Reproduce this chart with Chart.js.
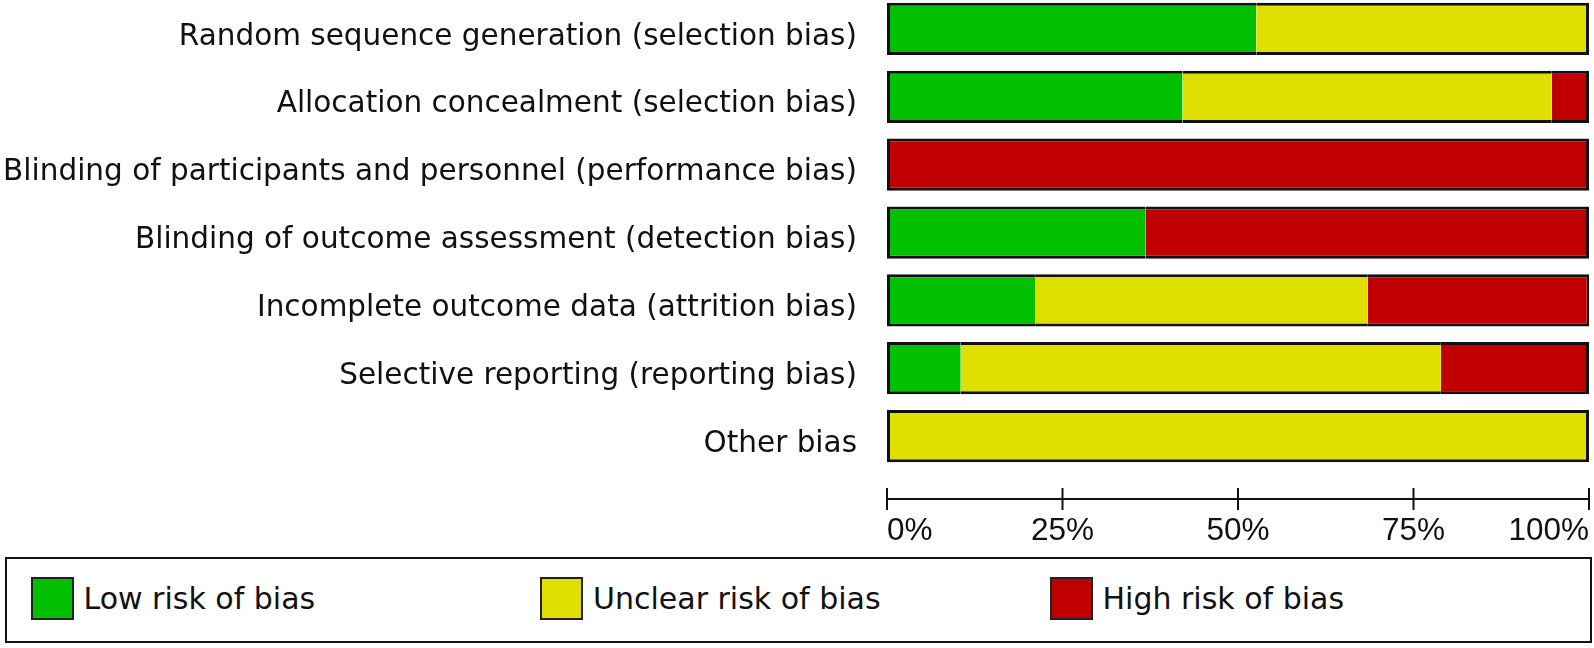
<!DOCTYPE html>
<html>
<head>
<meta charset="utf-8">
<script src="https://cdn.jsdelivr.net/npm/chart.js@4.4.1/dist/chart.umd.min.js"></script>
<style>
  html, body { margin: 0; padding: 0; background: #fff; }
  body { width: 1594px; height: 648px; position: relative; overflow: hidden;
         font-family: 'DejaVu Sans', sans-serif; }
  #chart { position: absolute; left: 0; top: -5px; }
  #legend { position: absolute; left: 5px; top: 557px; width: 1587px; height: 86px;
            box-sizing: border-box; border: 2px solid #111; }
  .item { position: absolute; top: 18px; display: flex; align-items: center;
          font-size: 30px; color: #111; white-space: nowrap; }
  .swatch { width: 43px; height: 43px; box-sizing: border-box; border: 2px solid #222;
            margin-right: 10px; }
</style>
</head>
<body>
<canvas id="chart" width="1594" height="555"></canvas>
<div id="legend"></div>
<script>
/* risk of bias summary – share of studies per judgement, % */

const categories = [
  'Random sequence generation (selection bias)',
  'Allocation concealment (selection bias)',
  'Blinding of participants and personnel (performance bias)',
  'Blinding of outcome assessment (detection bias)',
  'Incomplete outcome data (attrition bias)',
  'Selective reporting (reporting bias)',
  'Other bias',
];
const seriesNames = ['Low risk of bias', 'Unclear risk of bias', 'High risk of bias'];
const lowRisk     = [52.6, 42.1,   0, 36.8, 21.1, 10.5,   0];
const unclearRisk = [47.4, 52.6,   0,    0, 47.4, 68.4, 100];
const highRisk    = [   0,  5.3, 100, 63.2, 31.6, 21.1,   0];
const xTicks = [0, 25, 50, 75, 100];

const allSeries = [lowRisk, unclearRisk, highRisk];
const colors = ['#00c000', '#e0e000', '#c00000'];
const BW = 3;

/* outline the whole stacked bar, not each segment */
function segBorder(ctx) {
  if (ctx.type !== 'data') return 0;
  const row = ctx.dataIndex, d = ctx.datasetIndex;
  const vals = allSeries.map(s => s[row]);
  if (!vals[d]) return 0;
  const first = vals.findIndex(v => v > 0);
  let last = vals.length - 1;
  while (last > 0 && !(vals[last] > 0)) last--;
  return { top: BW, bottom: BW, left: d === first ? BW : 0, right: d === last ? BW : 0 };
}

/* axis drawn a little below the bars, ticks crossing the line */
const axisLine = {
  id: 'axisLine',
  afterDraw(chart) {
    const x = chart.scales.x, c = chart.ctx;
    const y = chart.chartArea.bottom + 29;
    c.save();
    c.strokeStyle = '#111';
    c.lineWidth = 2;
    c.beginPath();
    c.moveTo(x.getPixelForValue(xTicks[0]), y);
    c.lineTo(x.getPixelForValue(xTicks[xTicks.length - 1]), y);
    x.ticks.forEach(t => {
      const px = x.getPixelForValue(t.value);
      c.moveTo(px, y - 11);
      c.lineTo(px, y + 11);
    });
    c.stroke();
    c.restore();
  },
};

new Chart(document.getElementById('chart'), {
  type: 'bar',
  data: {
    labels: categories,
    datasets: allSeries.map((data, i) => ({
      label: seriesNames[i],
      data,
      backgroundColor: colors[i],
      borderColor: '#111',
      borderWidth: segBorder,
      borderSkipped: false,
      categoryPercentage: 1,
      barPercentage: 0.77,
    })),
  },
  options: {
    indexAxis: 'y',
    responsive: false,
    animation: false,
    layout: { padding: { left: 0, right: 5, top: 0, bottom: 0 } },
    plugins: { legend: { display: false }, tooltip: { enabled: false } },
    scales: {
      x: {
        type: 'linear', stacked: true, min: 0, max: 100,
        afterBuildTicks: s => { s.ticks = xTicks.map(v => ({ value: v })); },
        afterFit: s => { s.height = 80; s.paddingLeft = 0; s.paddingRight = 0; },
        grid: { display: false, drawTicks: false },
        border: { display: false },
        ticks: {
          align: 'inner', padding: 42, color: '#111',
          font: { family: "'Liberation Sans', Arial, sans-serif", size: 31.5 },
          callback: v => v + '%',
        },
      },
      y: {
        stacked: true,
        afterFit: s => { s.width = 887; s.paddingTop = 0; s.paddingBottom = 0; },
        grid: { display: false, drawTicks: false },
        border: { display: false },
        ticks: {
          padding: 30, labelOffset: 8, color: '#111',
          font: { family: "'DejaVu Sans', sans-serif", size: 29.5 },
        },
      },
    },
  },
  plugins: [axisLine],
});

/* legend box below the chart */
const legend = document.getElementById('legend');
seriesNames.forEach((name, i) => {
  const item = document.createElement('div');
  item.className = 'item';
  item.style.left = (23.5 + 509.5 * i) + 'px';
  const sw = document.createElement('span');
  sw.className = 'swatch';
  sw.style.background = colors[i];
  const txt = document.createElement('span');
  txt.textContent = name;
  item.append(sw, txt);
  legend.appendChild(item);
});
</script>
</body>
</html>
